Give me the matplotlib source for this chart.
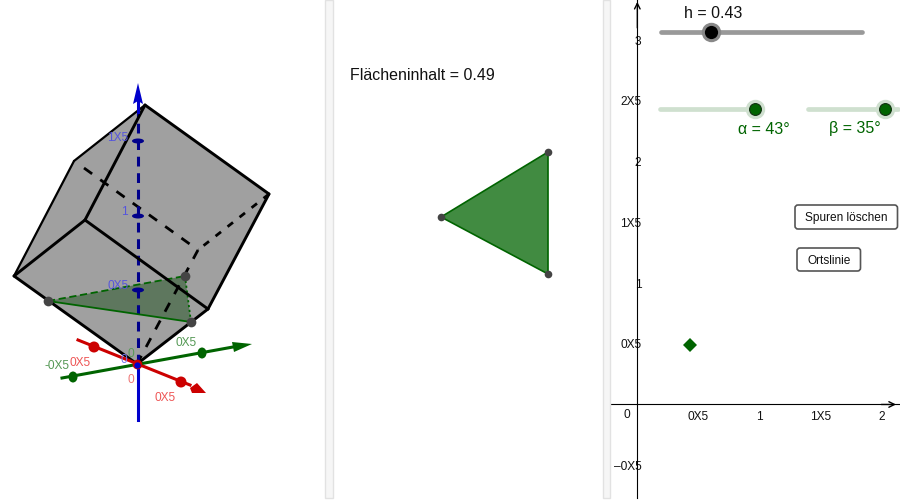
#!/usr/bin/env python3

import matplotlib
matplotlib.use('Agg')
import matplotlib.pyplot as plt
from matplotlib.patches import Polygon, Ellipse, FancyBboxPatch, Rectangle

plt.rcParams['font.family'] = ['Liberation Sans', 'DejaVu Sans']

# --- 3D view, screen positions ---
cube_outline = [(145, 105), (269, 194), (208, 309), (137, 364), (14, 276), (74, 161)]
cube_solid = [((145, 105), (269, 194)), ((269, 194), (208, 309)), ((208, 309), (85, 220)),
              ((145, 105), (85, 220)), ((85, 220), (14, 276)), ((14, 276), (137, 364)),
              ((137, 364), (208, 309))]
cube_thin = [((14, 276), (74, 161)), ((74, 161), (145, 105))]
cube_hidden = [((84, 168), (198, 250)), ((198, 250), (137, 364))]
cube_hidden_short = [((269, 194), (198, 250))]
section = [(48, 301), (185, 276), (191, 322)]
z_ticks = [290, 216, 141]
z_labels = [(118, 286, '0X5'), (124, 212, '1'), (118, 138, '1X5')]
x_marks = [(94, 347), (181, 382)]
y_marks = [(73, 377), (202, 353)]

# --- area panel ---
area_label = 'Flächeninhalt = 0.49'
area_triangle = [(441, 217), (548, 152), (548, 274)]

# --- 2D graph ---
xtick_vals = [0.5, 1, 1.5, 2]
xtick_text = ['0X5', '1', '1X5', '2']
ytick_vals = [-0.5, 0.5, 1, 1.5, 2, 2.5, 3]
ytick_text = ['\u20130X5', '0X5', '1', '1X5', '2', '2X5', '3']
trace_x = [0.43]
trace_y = [0.49]

DGREEN = '#006400'

fig = plt.figure(figsize=(9, 5), dpi=100)

# graph on the right, with its real scale
ax = fig.add_axes([610 / 900, 1 - 498 / 500, 290 / 900, 498 / 500])
ax.set_xlim(-0.224, 2.153)
ax.set_ylim(-0.77, 3.33)
for s in ['top', 'right']:
    ax.spines[s].set_visible(False)
ax.spines['left'].set_position('zero')
ax.spines['bottom'].set_position('zero')
ax.set_xticks(xtick_vals, xtick_text)
ax.set_yticks(ytick_vals, ytick_text)
ax.tick_params(axis='x', length=0, pad=4.5, labelsize=8.6, colors='#111111')
ax.tick_params(axis='y', length=0, pad=-3, labelsize=8.6, colors='#111111')
for lab in ax.get_yticklabels():
    lab.set_bbox(dict(fc='white', ec='none', pad=1))
ax.text(-0.085, -0.085, '0', fontsize=8.6, ha='center', va='center', color='#111111')
ax.annotate('', xy=(2.12, 0), xytext=(2.0, 0), arrowprops=dict(arrowstyle='->', lw=1, color='black', shrinkA=0, shrinkB=0))
ax.annotate('', xy=(0, 3.315), xytext=(0, 3.1), arrowprops=dict(arrowstyle='->', lw=1, color='black', shrinkA=0, shrinkB=0))
ax.plot(trace_x, trace_y, 'D', color=DGREEN, ms=7.5, mew=0)

# everything else in picture pixels
px = fig.add_axes([0, 0, 1, 1], zorder=3)
px.set_xlim(0, 900)
px.set_ylim(500, 0)
px.axis('off')

# panel dividers
for x0, x1 in [(325, 332.5), (603, 609.5)]:
    px.add_patch(Rectangle((x0, 0), x1 - x0, 498, fc='#f6f6f6', ec='#e2e2e2', lw=1))

# cube
px.add_patch(Polygon(cube_outline, fc='#a0a0a0', ec='none'))
for a, b in cube_hidden:
    px.plot(*zip(a, b), color='black', lw=2, dashes=(3.6, 3.6), solid_capstyle='butt')
for a, b in cube_hidden_short:
    px.plot(*zip(a, b), color='black', lw=2, dashes=(2.5, 3), solid_capstyle='butt')
px.plot([138, 138], [364, 112], color='#00008b', lw=2.2, dashes=(3.2, 2.2))
px.add_patch(Polygon(section, fc='#1e501e', alpha=0.5, ec='none'))
px.plot(*zip(section[0], section[2]), color=DGREEN, lw=1.3)
px.plot(*zip(section[0], section[1]), color=DGREEN, lw=1.3, dashes=(4, 2))
px.plot(*zip(section[1], section[2]), color=DGREEN, lw=1.3, dashes=(1.2, 1.5))
for a, b in cube_solid:
    px.plot(*zip(a, b), color='black', lw=2.1, solid_capstyle='round')
for a, b in cube_thin:
    px.plot(*zip(a, b), color='black', lw=1.6, solid_capstyle='round')
for x, y in section:
    px.plot(x, y, 'o', color='#444444', ms=7, mew=0)

# z axis
px.plot([138, 138], [420, 364], color='#0000cc', lw=2.2)
px.plot([138, 138], [112, 95], color='#0000cc', lw=2.2)
px.add_patch(Polygon([(138, 83), (133, 104), (138, 101), (143, 104)], fc='#0000cc', ec='none'))
for y in z_ticks:
    px.add_patch(Ellipse((138, y), 12, 5, fc='#00008b', ec='none'))
for x, y, t in z_labels:
    px.text(x, y, t, fontsize=8.6, color='#5555dd', ha='center', va='center')

# x axis
px.plot([78, 190], [340, 385], color='#cc0000', lw=2.2)
px.add_patch(Polygon([(190, 388), (197, 383), (206, 393), (192, 393)], fc='#cc0000', ec='none'))
for x, y in x_marks:
    px.add_patch(Ellipse((x, y), 11, 11, fc='#cc0000', ec='none'))
px.text(80, 363, '0X5', fontsize=8.6, color='#ee5555', ha='center', va='center')
px.text(165, 398, '0X5', fontsize=8.6, color='#ee5555', ha='center', va='center')
px.text(131, 380, '0', fontsize=8.6, color='#ee7777', ha='center', va='center')

# y axis
px.plot([62, 233], [378, 347], color=DGREEN, lw=2.2)
px.add_patch(Polygon([(232, 342), (252, 344), (234, 352)], fc=DGREEN, ec='none'))
for x, y in y_marks:
    px.add_patch(Ellipse((x, y), 9, 11, fc=DGREEN, ec='none'))
px.text(186, 343, '0X5', fontsize=8.6, color='#559955', ha='center', va='center')
px.text(57, 366, '-0X5', fontsize=8.6, color='#559955', ha='center', va='center')
px.text(131, 354, '0', fontsize=8.6, color='#559955', ha='center', va='center')
px.text(124, 360, '0', fontsize=8.6, color='#7777ee', ha='center', va='center')

# origin
px.plot(137, 364, 'o', color='#cc0000', ms=7, mew=0)
px.plot(137, 365, 'o', color='#0000cc', ms=4.5, mew=0)

# area panel
px.text(350, 75, area_label, fontsize=11.5, color='#111111', ha='left', va='center')
px.add_patch(Polygon(area_triangle, fc='#418b41', ec=DGREEN, lw=1.2))
for x, y in area_triangle:
    px.plot(x, y, 'o', color='#444444', ms=5.5, mew=0)

# sliders
px.plot([661, 862], [32, 32], color='#999999', lw=3.4, solid_capstyle='round')
px.plot(711, 32, 'o', color='#888888', ms=14, mew=0)
px.plot(711, 32, 'o', color='black', ms=9.5, mew=0)
px.text(713, 14, 'h = 0.43', fontsize=11.5, color='#111111', ha='center', va='center')

px.plot([660, 755], [109, 109], color='#cfe0cf', lw=3.4, solid_capstyle='round')
px.plot([808, 898], [109, 109], color='#cfe0cf', lw=3.4, solid_capstyle='round')
for x in [755, 885]:
    px.plot(x, 109, 'o', color='#cfe0cf', ms=14, mew=0)
    px.plot(x, 109, 'o', color=DGREEN, ms=8.5, mew=0.8, mec='#103010')
px.text(764, 129, 'α = 43°', fontsize=11.5, color=DGREEN, ha='center', va='center')
px.text(855, 128, 'β = 35°', fontsize=11.5, color=DGREEN, ha='center', va='center')

# buttons
for x0, x1, y0, y1, label, ty in [(795, 897.5, 205, 229, 'Spuren löschen', 217),
                                  (797, 860.5, 248, 271, 'Ortslinie', 259)]:
    px.add_patch(FancyBboxPatch((x0 + 2, y0 + 2), x1 - x0 - 4, y1 - y0 - 4,
                                boxstyle='round,pad=2,rounding_size=3', fc='white', ec='#555555', lw=1.2))
    px.text((x0 + x1) / 2, ty, label, fontsize=8.6, color='#111111', ha='center', va='center_baseline')

fig.savefig('out.png', dpi=100)
